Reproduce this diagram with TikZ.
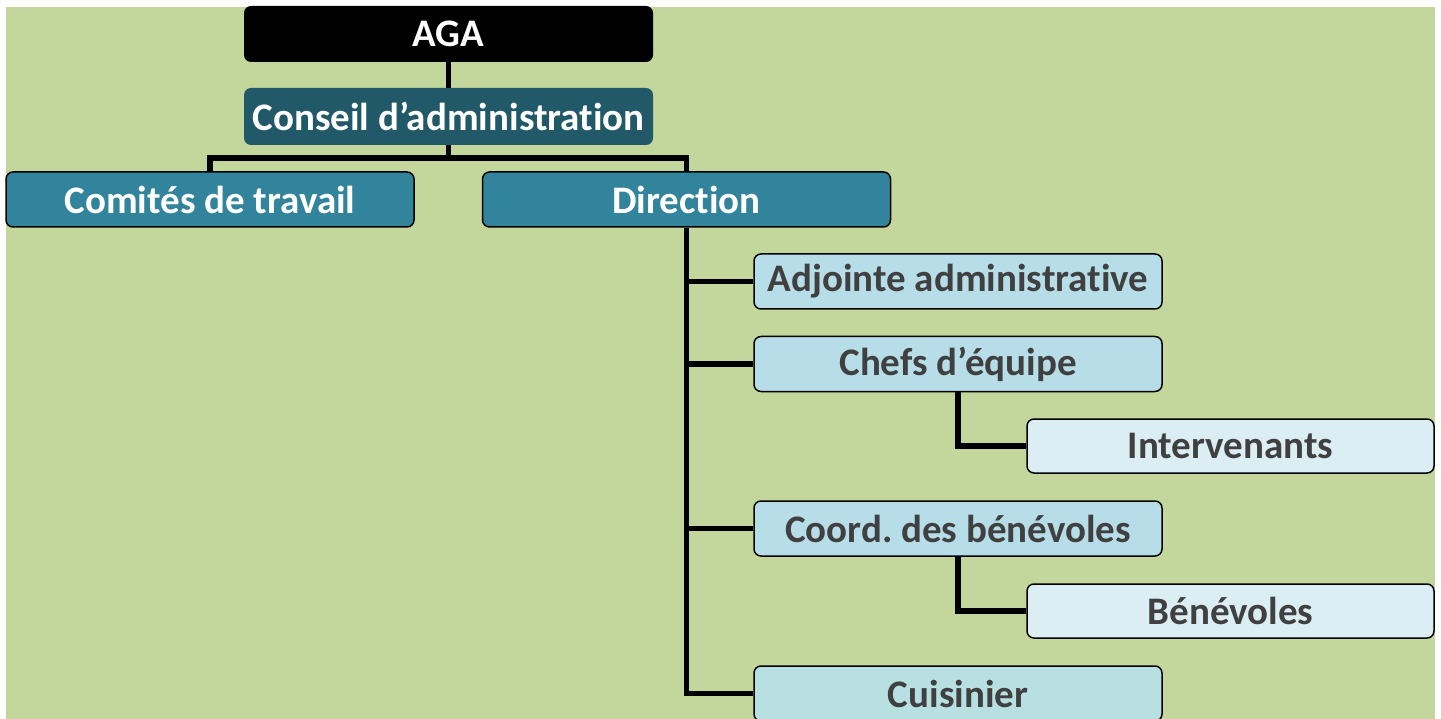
\documentclass[tikz,border=0pt]{standalone}
\usepackage{fontspec}
\setmainfont{Carlito}[Ligatures=NoCommon]
\definecolor{bggreen}{HTML}{C3D69B}
\definecolor{cadark}{HTML}{215968}
\definecolor{teal}{HTML}{31849B}
\definecolor{lightblue}{HTML}{B7DEE8}
\definecolor{paleblue}{HTML}{DBEEF4}
\definecolor{cookblue}{HTML}{B8E0E3}
\definecolor{txtgray}{HTML}{404040}
\tikzset{
  box/.style={rectangle, rounded corners=7pt, minimum width=408pt, minimum height=55pt,
    inner sep=0pt, font=\fontsize{39}{44}\selectfont\bfseries},
  topbox/.style={box, fill=#1, text=white},
  midbox/.style={box, fill=teal, draw=black, line width=1.5pt, text=white},
  lowbox/.style={box, fill=#1, draw=black, line width=1.5pt, text=txtgray},
  conn/.style={draw=black, line width=5.5pt}
}
\begin{document}
\begin{tikzpicture}[x=1pt,y=-1pt]
\useasboundingbox (0,0) rectangle (1441,719);
\fill[white] (0,0) rectangle (1441,719);
\fill[bggreen] (6,7) rectangle (1435,719);

\node[topbox=black, minimum width=409pt, minimum height=56pt] (aga) at (448.5,34) {AGA};
\node[topbox=cadark, minimum width=409pt, minimum height=57pt] (ca) at (448.5,116.5) {Conseil d’administration};
\node[midbox] (comites) at (210,199.5) {Comités de travail};
\node[midbox] (direction) at (686.5,199.5) {Direction};
\node[lowbox=lightblue] (adjointe) at (958,281.5) {Adjointe administrative};
\node[lowbox=lightblue] (chefs) at (958,364) {Chefs d’équipe};
\node[lowbox=paleblue, minimum width=407pt, minimum height=54pt] (interv) at (1230.5,446) {Intervenants};
\node[lowbox=lightblue] (coord) at (958,528.5) {Coord.\ des bénévoles};
\node[lowbox=paleblue, minimum width=407pt, minimum height=54pt] (benev) at (1230.5,611) {Bénévoles};
\node[lowbox=cookblue] (cuis) at (958,693.5) {Cuisinier};

\coordinate (bus) at (448.5,158);
\draw[conn] (aga.south) -- (ca.north);
\draw[conn] (ca.south) -- (bus) -| (comites.north);
\draw[conn] (bus) -| (direction.north);
\draw[conn] (direction.south) |- (adjointe.west);
\draw[conn] (direction.south) |- (chefs.west);
\draw[conn] (direction.south) |- (coord.west);
\draw[conn] (direction.south) |- (cuis.west);
\draw[conn] (chefs.south) |- (interv.west);
\draw[conn] (coord.south) |- (benev.west);
\end{tikzpicture}
\end{document}
